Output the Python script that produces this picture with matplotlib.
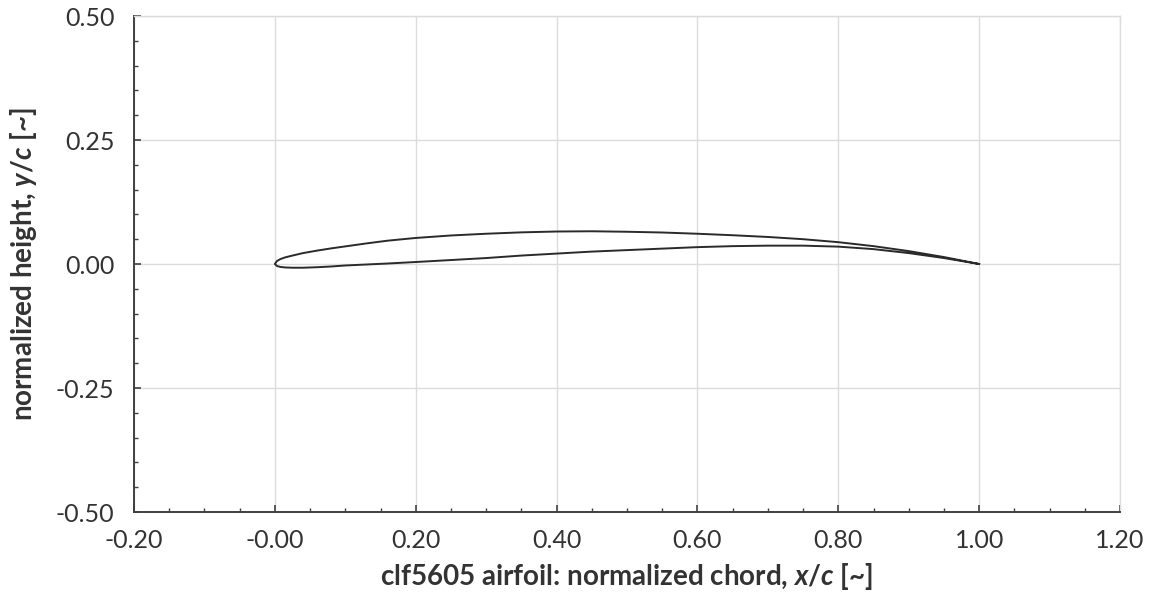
import matplotlib
matplotlib.use("Agg")
import matplotlib.pyplot as plt
from matplotlib.ticker import FixedLocator, FixedFormatter, MultipleLocator

# Airfoil surface estimates (x/c, y/c)
x_upper = [0.0, 0.003, 0.008, 0.015, 0.025, 0.04, 0.06, 0.08, 0.10, 0.13, 0.16, 0.20,
           0.25, 0.30, 0.35, 0.40, 0.45, 0.50, 0.55, 0.60, 0.65, 0.70, 0.75, 0.80,
           0.85, 0.90, 0.95, 1.0]
y_upper = [0.0, 0.006, 0.010, 0.0135, 0.017, 0.022, 0.027, 0.0315, 0.0355, 0.0415, 0.047, 0.0525,
           0.0575, 0.061, 0.0638, 0.0655, 0.066, 0.065, 0.0635, 0.061, 0.058, 0.0545, 0.050, 0.044,
           0.036, 0.026, 0.014, 0.0]
x_lower = [0.0, 0.003, 0.008, 0.015, 0.025, 0.04, 0.06, 0.08, 0.10, 0.13, 0.16, 0.20,
           0.25, 0.30, 0.35, 0.40, 0.45, 0.50, 0.55, 0.60, 0.65, 0.70, 0.75, 0.80,
           0.85, 0.90, 0.95, 1.0]
y_lower = [0.0, -0.004, -0.006, -0.007, -0.0075, -0.0075, -0.0065, -0.005, -0.003, -0.001, 0.001, 0.004,
           0.008, 0.012, 0.017, 0.021, 0.025, 0.028, 0.031, 0.034, 0.036, 0.037, 0.037, 0.035,
           0.030, 0.022, 0.012, 0.0]

x_ticks = [-0.2, 0.0, 0.2, 0.4, 0.6, 0.8, 1.0, 1.2]
x_tick_labels = ["-0.20", "-0.00", "0.20", "0.40", "0.60", "0.80", "1.00", "1.20"]
y_ticks = [-0.5, -0.25, 0.0, 0.25, 0.5]
y_tick_labels = ["-0.50", "-0.25", "0.00", "0.25", "0.50"]

plt.rcParams['font.family'] = ['Lato', 'DejaVu Sans']
plt.rcParams['mathtext.fontset'] = 'custom'
plt.rcParams['mathtext.it'] = 'Lato:italic:bold'
plt.rcParams['mathtext.rm'] = 'Lato:bold'

text_color = '#333333'
grid_color = '#dcdcdc'

fig = plt.figure(figsize=(11.49, 6.0), dpi=100)
ax = fig.add_axes([134/1149, 88/600, (1120-134)/1149, (512-16)/600])

xs = list(reversed(x_upper)) + x_lower[1:]
ys = list(reversed(y_upper)) + y_lower[1:]
ax.plot(xs, ys, color='#2a2a2a', lw=1.4, zorder=3)

ax.set_xlim(-0.2, 1.2)
ax.set_ylim(-0.5, 0.5)
ax.xaxis.set_major_locator(FixedLocator(x_ticks))
ax.xaxis.set_major_formatter(FixedFormatter(x_tick_labels))
ax.yaxis.set_major_locator(FixedLocator(y_ticks))
ax.yaxis.set_major_formatter(FixedFormatter(y_tick_labels))
ax.xaxis.set_minor_locator(MultipleLocator(0.05))
ax.yaxis.set_minor_locator(MultipleLocator(0.05))

ax.grid(True, which='major', color=grid_color, lw=1.0, zorder=0)
ax.set_axisbelow(True)

for s in ['top', 'right']:
    ax.spines[s].set_color(grid_color)
    ax.spines[s].set_linewidth(1.0)
for s in ['left', 'bottom']:
    ax.spines[s].set_color('#404040')
    ax.spines[s].set_linewidth(1.4)

ax.tick_params(which='major', direction='in', length=5, width=1.2, color='#404040',
               labelsize=18, labelcolor=text_color, top=False, right=False)
ax.tick_params(which='minor', direction='in', length=3, width=1.0, color='#404040',
               top=False, right=False)
ax.tick_params(axis='x', pad=12)
ax.tick_params(axis='y', pad=14)

ax.set_xlabel(r"clf5605 airfoil: normalized chord, $x/c$ [~]", fontsize=20,
              fontweight='bold', color=text_color, labelpad=7)
ax.set_ylabel(r"normalized height, $y/c$ [~]", fontsize=20,
              fontweight='bold', color=text_color, labelpad=12)

fig.savefig("out.png", dpi=100)
